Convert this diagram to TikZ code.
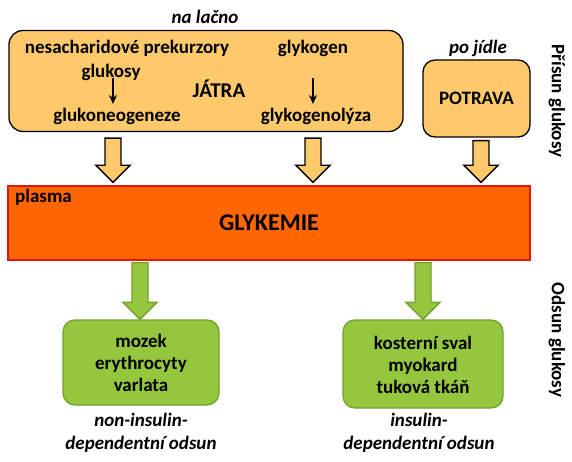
\documentclass[tikz,border=0pt]{standalone}
\usepackage{fontspec}
\setmainfont{Carlito}
\usetikzlibrary{calc,arrows.meta}
\definecolor{zloutek}{RGB}{253,201,106}
\definecolor{plasmafill}{RGB}{255,102,0}
\definecolor{plasmaline}{RGB}{226,24,18}
\definecolor{zelena}{RGB}{148,198,62}
\definecolor{zelenaline}{RGB}{116,160,44}
\tikzset{
  obox/.style={draw=black, fill=zloutek, line width=1.3pt, rounded corners=14pt},
  gbox/.style={draw=zelenaline, fill=zelena, line width=1.3pt, rounded corners=12pt},
  txt/.style={font=\fontsize{19}{22}\selectfont\bfseries, inner sep=0pt},
  itxt/.style={font=\fontsize{19}{23}\selectfont\bfseries\itshape, inner sep=0pt, align=center},
  oarrow/.style={draw=black, fill=zloutek, line width=1.3pt},
  garrow/.style={draw=zelenaline, fill=zelena, line width=1.3pt},
  sipka/.style={-{Stealth[length=9pt,width=8pt]}, line width=1.3pt},
}
\def\fatarrow[#1](#2)(#3){\draw[#1] let \p1=(#2), \p2=(#3) in (\x1-8pt,\y1) -- (\x1+8pt,\y1) -- (\x1+8pt,\y2+17pt) -- (\x1+17pt,\y2+17pt) -- (\x2,\y2) -- (\x1-17pt,\y2+17pt) -- (\x1-8pt,\y2+17pt) -- cycle;}

\begin{document}
\begin{tikzpicture}[x=1pt,y=-1pt]
		%%%%% ramec %%%%%
		\useasboundingbox (0,0) rectangle (572,462);
		
		%%%%% prisun %%%%%
		\node[obox, minimum width=394pt, minimum height=101pt] (jatra) at (206,81) {};
		\node[obox, minimum width=107pt, minimum height=77pt, rounded corners=12pt] (potrava) at (476.5,98.5) {};
		\node[itxt] (nalacno) at (205,17) {na lačno};
		\node[itxt] (pojidle) at (478,48) {po jídle};
		
		\node[txt] (prekurzory) at (127,48) {nesacharidové prekurzory};
		\node[txt] (glukosy) at (111,72) {glukosy};
		\node[txt] (neo) at (117,116) {glukoneogeneze};
		\node[txt] (glykogen) at (313,48) {glykogen};
		\node[txt] (lyza) at (316,116) {glykogenolýza};
		\node[txt, font=\fontsize{21}{24}\selectfont\bfseries] (jatratext) at (219,89) {JÁTRA};
		\node[txt] (potravatext) at (476.5,98) {POTRAVA};
		
		\draw[sipka] (113,78) -- (113,104);
		\draw[sipka] (313,78) -- (313,104);
		
		%%%%% plasma %%%%%
		\node[draw=plasmaline, fill=plasmafill, line width=1.3pt, minimum width=522pt, minimum height=74pt] (plasma) at (269,223) {};
		\node[txt, anchor=west] (plasmatext) at (15,197) {plasma};
		\node[txt, font=\fontsize{24}{28}\selectfont\bfseries] (glykemie) at (269,223) {GLYKEMIE};
		
		\coordinate (a1) at (113,0);
		\coordinate (a2) at (313,0);
		\coordinate (a3) at (481,0);
		\fatarrow[oarrow]([yshift=-6pt]a1 |- jatra.south)([yshift=3pt]a1 |- plasma.north);
		\fatarrow[oarrow]([yshift=-6pt]a2 |- jatra.south)([yshift=3pt]a2 |- plasma.north);
		\fatarrow[oarrow]([yshift=-3pt]a3 |- potrava.south)([yshift=3pt]a3 |- plasma.north);
		
		%%%%% odsun %%%%%
		\node[gbox, minimum width=156pt, minimum height=85pt] (mozek) at (141,362.5) {};
		\node[gbox, minimum width=160pt, minimum height=88pt] (sval) at (423,364) {};
		\node[txt, align=center] (mozektext) at (141,363) {mozek\\erythrocyty\\varlata};
		\node[txt, align=center] (svaltext) at (423,364.5) {kosterní sval\\myokard\\tuková tkáň};
		\node[itxt] (noninz) at (141,433) {non-insulin-\\dependentní odsun};
		\node[itxt] (inz) at (419,433) {insulin-\\dependentní odsun};
		
		\coordinate (b1) at (140,0);
		\coordinate (b2) at (423,0);
		\fatarrow[garrow]([yshift=-2pt]b1 |- plasma.south)(b1 |- mozek.north);
		\fatarrow[garrow]([yshift=-2pt]b2 |- plasma.south)(b2 |- sval.north);
		
		%%%%% popisky %%%%%
		\node[txt, rotate=-90] (prisun) at (557,101) {Přísun glukosy};
		\node[txt, rotate=-90] (odsun) at (557,340) {Odsun glukosy};
		
	\end{tikzpicture}
\end{document}
